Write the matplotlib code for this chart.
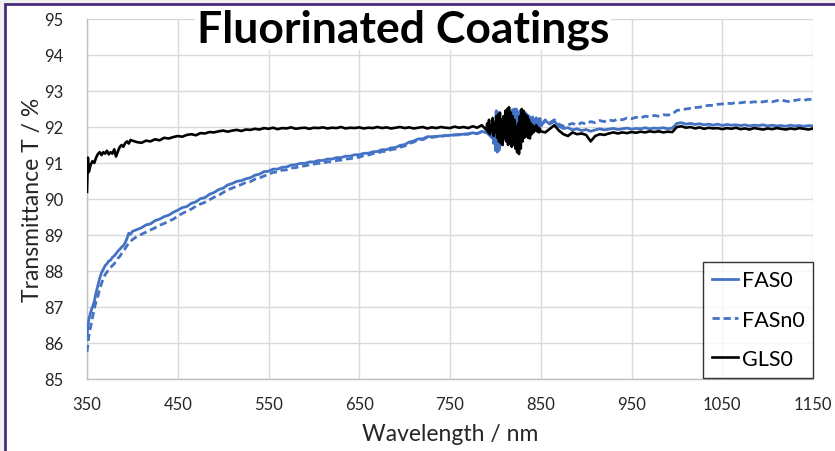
import numpy as np
import matplotlib
matplotlib.use("Agg")
import matplotlib.pyplot as plt
from matplotlib.patches import Rectangle

plt.rcParams['font.family'] = ['Lato', 'DejaVu Sans']

# Wavelength grid (nm): finer at the steep start and in the noisy band
wl_start = [350, 351] + list(range(352, 401, 2))
wl_mid = list(range(405, 791, 5))
wl_noise = list(range(791, 851))
wl_end = list(range(855, 1151, 5))
wavelength = np.array(wl_start + wl_mid + wl_noise + wl_end, dtype=float)

# Transmittance (%) for each sample
fas0 = [
    # 350-400
    86.20, 86.45, 86.65, 86.85, 87.00, 87.15, 87.40, 87.60, 87.80, 87.95,
    88.05, 88.15, 88.20, 88.28, 88.30, 88.38, 88.42, 88.48, 88.55, 88.60,
    88.66, 88.70, 88.78, 88.90, 89.05, 89.02, 89.10,
    # 405-790
    89.15, 89.20, 89.28, 89.31, 89.40, 89.44, 89.51, 89.55, 89.63, 89.69,
    89.76, 89.79, 89.88, 89.92, 90.01, 90.04, 90.13, 90.18, 90.26, 90.30,
    90.39, 90.43, 90.49, 90.51, 90.56, 90.59, 90.66, 90.69, 90.76, 90.77,
    90.83, 90.83, 90.88, 90.89, 90.94, 90.95, 90.99, 90.99, 91.03, 91.03,
    91.07, 91.07, 91.11, 91.11, 91.15, 91.15, 91.19, 91.19, 91.23, 91.23,
    91.27, 91.27, 91.31, 91.32, 91.37, 91.37, 91.42, 91.43, 91.49, 91.51,
    91.58, 91.61, 91.67, 91.67, 91.73, 91.73, 91.74, 91.75, 91.76, 91.77,
    91.78, 91.79, 91.80, 91.81, 91.84, 91.81, 91.88, 91.84,
    # 791-850
    91.90, 91.80, 91.95, 91.75, 91.90, 91.70, 91.95, 91.60, 92.10, 91.40,
    92.45, 91.30, 92.40, 91.35, 92.20, 91.50, 92.10, 91.60, 92.20, 91.65,
    92.30, 91.70, 92.35, 91.60, 92.30, 91.65, 92.40, 91.60, 92.45, 91.65,
    92.50, 91.70, 92.45, 91.75, 92.40, 91.80, 92.45, 91.75, 92.40, 91.80,
    92.35, 91.85, 92.40, 91.80, 92.35, 91.90, 92.30, 91.85, 92.25, 91.95,
    92.25, 91.95, 92.20, 92.00, 92.25, 91.98, 92.20, 92.00, 92.22, 92.02,
    # 855-1150
    92.18, 92.08, 92.16, 92.02, 91.96, 91.98, 91.92, 91.95, 91.90, 91.93,
    91.88, 91.92, 91.95, 91.92, 91.94, 91.96, 91.93, 91.95, 91.97, 91.94,
    91.96, 91.95, 91.98, 91.95, 91.97, 91.96, 91.98, 91.95, 91.97, 92.10,
    92.12, 92.08, 92.10, 92.07, 92.09, 92.06, 92.08, 92.05, 92.08, 92.04,
    92.07, 92.05, 92.06, 92.04, 92.06, 92.03, 92.05, 92.04, 92.06, 92.03,
    92.05, 92.03, 92.04, 92.02, 92.05, 92.03, 92.04, 92.02, 92.04, 92.03,
]

fasn0 = [
    # 350-400
    85.75, 85.95, 86.20, 86.45, 86.70, 86.95, 87.15, 87.30, 87.50, 87.65,
    87.80, 87.90, 87.97, 88.05, 88.10, 88.15, 88.20, 88.27, 88.35, 88.40,
    88.48, 88.55, 88.62, 88.70, 88.78, 88.82, 88.87,
    # 405-790
    88.96, 89.02, 89.08, 89.14, 89.20, 89.27, 89.32, 89.38, 89.44, 89.52,
    89.60, 89.66, 89.72, 89.80, 89.86, 89.91, 89.98, 90.05, 90.10, 90.18,
    90.26, 90.30, 90.36, 90.40, 90.46, 90.48, 90.55, 90.58, 90.64, 90.68,
    90.74, 90.75, 90.80, 90.81, 90.86, 90.87, 90.91, 90.92, 90.95, 90.97,
    90.99, 91.00, 91.03, 91.04, 91.07, 91.08, 91.11, 91.12, 91.15, 91.16,
    91.21, 91.22, 91.26, 91.27, 91.32, 91.32, 91.37, 91.39, 91.44, 91.47,
    91.54, 91.58, 91.64, 91.65, 91.71, 91.71, 91.73, 91.74, 91.76, 91.76,
    91.78, 91.78, 91.80, 91.80, 91.84, 91.82, 91.87, 91.85,
    # 791-850
    91.88, 91.82, 91.93, 91.78, 91.92, 91.72, 91.98, 91.55, 92.15, 91.35,
    92.50, 91.32, 92.35, 91.40, 92.15, 91.55, 92.05, 91.62, 92.25, 91.68,
    92.28, 91.72, 92.30, 91.65, 92.35, 91.62, 92.42, 91.65, 92.48, 91.70,
    92.45, 91.72, 92.50, 91.78, 92.42, 91.82, 92.40, 91.78, 92.45, 91.85,
    92.38, 91.88, 92.35, 91.85, 92.30, 91.92, 92.28, 91.90, 92.25, 91.98,
    92.28, 91.98, 92.22, 92.02, 92.25, 92.00, 92.22, 92.05, 92.24, 92.04,
    # 855-1150
    92.20, 92.12, 92.20, 92.08, 92.02, 92.06, 92.10, 92.05, 92.12, 92.08,
    92.15, 92.12, 92.18, 92.15, 92.20, 92.17, 92.22, 92.20, 92.25, 92.23,
    92.27, 92.25, 92.30, 92.28, 92.32, 92.30, 92.34, 92.33, 92.36, 92.46,
    92.48, 92.50, 92.52, 92.54, 92.55, 92.58, 92.60, 92.60, 92.63, 92.64,
    92.66, 92.65, 92.68, 92.67, 92.69, 92.68, 92.70, 92.69, 92.70, 92.72,
    92.70, 92.73, 92.75, 92.72, 92.70, 92.74, 92.76, 92.74, 92.77, 92.76,
]

gls0 = [
    # 350-400
    90.20, 91.15, 90.75, 90.95, 91.05, 91.00, 91.15, 91.25, 91.30, 91.22,
    91.30, 91.26, 91.34, 91.24, 91.30, 91.26, 91.38, 91.18, 91.32, 91.44,
    91.50, 91.45, 91.55, 91.60, 91.54, 91.64, 91.62,
    # 405-790
    91.58, 91.56, 91.62, 91.60, 91.66, 91.63, 91.70, 91.68, 91.72, 91.75,
    91.73, 91.78, 91.80, 91.77, 91.83, 91.82, 91.86, 91.85, 91.88, 91.90,
    91.87, 91.90, 91.92, 91.89, 91.93, 91.92, 91.95, 91.93, 91.97, 91.95,
    91.98, 91.94, 91.97, 91.96, 91.99, 91.95, 91.97, 91.98, 91.95, 91.98,
    91.97, 91.99, 91.96, 91.98, 91.97, 92.00, 91.96, 91.98, 91.97, 91.99,
    91.96, 91.98, 91.97, 92.00, 91.97, 91.99, 91.96, 91.98, 92.00, 91.97,
    91.99, 91.96, 91.98, 92.00, 91.96, 91.99, 91.97, 92.00, 91.98, 91.97,
    92.01, 91.98, 92.00, 91.97, 92.02, 91.98, 92.05, 91.92,
    # 791-850
    92.10, 91.85, 92.20, 91.80, 92.05, 91.90, 92.25, 91.75, 92.10, 91.85,
    92.30, 91.70, 92.35, 91.60, 92.40, 91.55, 92.20, 91.50, 92.30, 91.70,
    92.45, 91.60, 92.50, 91.50, 92.55, 91.55, 92.40, 91.45, 92.30, 91.50,
    92.20, 91.40, 92.00, 91.30, 92.10, 91.25, 92.30, 91.40, 92.50, 91.60,
    92.45, 91.70, 92.35, 91.75, 92.30, 91.70, 92.20, 91.68, 92.10, 91.80,
    92.05, 91.85, 92.00, 91.90, 92.05, 91.88, 91.98, 91.85, 91.95, 91.88,
    # 855-1150
    91.85, 91.95, 92.05, 91.90, 91.80, 91.75, 91.85, 91.80, 91.82, 91.78,
    91.60, 91.75, 91.80, 91.78, 91.82, 91.85, 91.82, 91.85, 91.83, 91.86,
    91.84, 91.87, 91.85, 91.88, 91.86, 91.88, 91.85, 91.87, 91.86, 92.00,
    92.02, 91.98, 92.00, 91.96, 91.99, 91.95, 91.98, 91.96, 91.97, 91.94,
    91.97, 91.95, 91.98, 91.94, 91.96, 91.93, 91.97, 91.95, 91.93, 91.96,
    91.94, 91.97, 91.95, 91.93, 91.96, 91.94, 91.97, 91.95, 91.93, 91.96,
]

series_names = ["FAS0", "FASn0", "GLS0"]
x_ticks = [350, 450, 550, 650, 750, 850, 950, 1050, 1150]
y_ticks = [85, 86, 87, 88, 89, 90, 91, 92, 93, 94, 95]

W, H = 835, 452
fig = plt.figure(figsize=(W / 100, H / 100), dpi=100)
fig.patch.set_facecolor("#f0f0f0")
# chart frame with purple border
fig.add_artist(Rectangle((5 / W, -0.2), 1.3, 0.2 + (H - 5) / H,
                         transform=fig.transFigure, facecolor="white",
                         edgecolor="#4b2a7d", linewidth=2.0, zorder=0))

ax = fig.add_axes([87 / W, (H - 380) / H, (813 - 87) / W, (380 - 20) / H])
ax.set_facecolor("none")

blue = "#4472c4"
ax.plot(wavelength, fas0, color=blue, lw=2.0, label=series_names[0], zorder=3)
ax.plot(wavelength, fasn0, color=blue, lw=2.0, ls=(0, (2.6, 1.4)),
        label=series_names[1], zorder=3)
ax.plot(wavelength, gls0, color="black", lw=1.9, label=series_names[2], zorder=4)

ax.set_xlim(350, 1150)
ax.set_ylim(85, 95)
ax.set_xticks(x_ticks)
ax.set_yticks(y_ticks)
ax.grid(True, color="#d9d9d9", lw=1.0, zorder=0)
ax.set_axisbelow(True)
for side in ("top", "right"):
    ax.spines[side].set_visible(False)
for side in ("left", "bottom"):
    ax.spines[side].set_color("#bfbfbf")
    ax.spines[side].set_linewidth(1.0)
ax.tick_params(axis="both", length=0, labelsize=12, colors="#262626")
ax.tick_params(axis="y", pad=17)
ax.tick_params(axis="x", pad=12)

ax.set_xlabel("Wavelength / nm", fontsize=16.5, color="#262626", labelpad=8)
ax.set_ylabel("Transmittance T / %", fontsize=16.5, color="#262626", labelpad=1)

leg = ax.legend(loc="lower right", bbox_to_anchor=(1.0, 0.004), borderaxespad=0,
                fontsize=15.5, frameon=True, fancybox=False, handlelength=1.25,
                handletextpad=0.15, labelspacing=0.9, borderpad=0.4)
leg.get_frame().set_edgecolor("black")
leg.get_frame().set_linewidth(1.0)
leg.set_zorder(6)

fig.text(403 / W, (H - 42) / H, "Fluorinated Coatings", ha="center", va="baseline",
         fontsize=32, fontweight="bold", color="black", zorder=7,
         bbox=dict(facecolor="white", edgecolor="none", pad=1.0))

fig.savefig("out.png", dpi=100, facecolor=fig.get_facecolor())
